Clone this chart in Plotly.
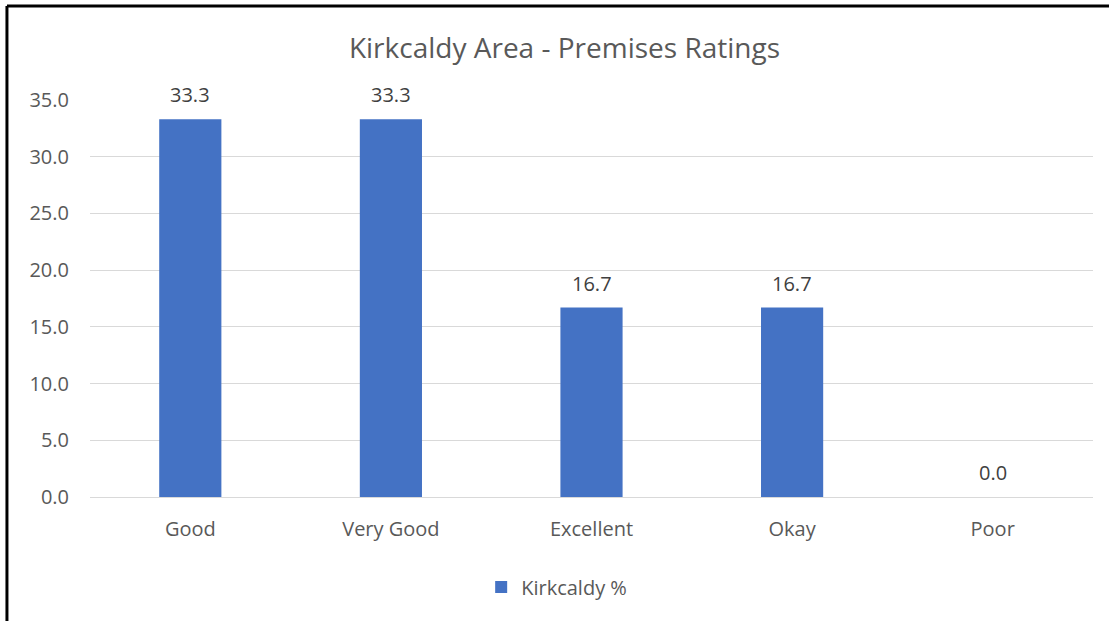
import plotly.graph_objects as go

# Premises ratings, Kirkcaldy area (% of responses)
categories = ["Good", "Very Good", "Excellent", "Okay", "Poor"]
kirkcaldy_pct = [33.3, 33.3, 16.7, 16.7, 0.0]
series_name = "Kirkcaldy %"
y_ticks = [0, 5, 10, 15, 20, 25, 30, 35]

FONT = "Open Sans, Noto Sans, sans-serif"
GREY = "#595959"
BLUE = "#4472c4"

fig = go.Figure(go.Bar(
    x=categories, y=kirkcaldy_pct, name=series_name,
    marker=dict(color=BLUE, line=dict(width=0)),
    showlegend=True,
))

# data labels above each bar
for cat, val in zip(categories, kirkcaldy_pct):
    fig.add_annotation(x=cat, y=val, text=f"{val:.1f}", showarrow=False,
                       yanchor="bottom", yshift=9,
                       font=dict(family=FONT, size=20, color="#404040"))

# frame of the pasted chart (only top and left edge visible)
fig.add_shape(type="line", xref="paper", yref="paper",
              x0=-0.0828, x1=1.03, y0=1.2368, y1=1.2368,
              line=dict(color="black", width=3))
fig.add_shape(type="line", xref="paper", yref="paper",
              x0=-0.0828, x1=-0.0828, y0=1.2368, y1=-0.4,
              line=dict(color="black", width=3))

fig.update_layout(
    width=1109, height=621,
    margin=dict(l=90, r=16, t=100, b=124),
    paper_bgcolor="white", plot_bgcolor="white",
    font=dict(family=FONT, size=20, color=GREY),
    title=dict(text="Kirkcaldy Area - Premises Ratings", x=0.509, xanchor="center",
               y=0.923, yanchor="middle", font=dict(family=FONT, size=28, color=GREY)),
    bargap=0.69,
    legend=dict(orientation="h", x=0.39, xanchor="left", y=-0.227, yanchor="middle",
                font=dict(family=FONT, size=20, color=GREY), itemwidth=30),
    xaxis=dict(showgrid=False, showline=False, ticks="", ticklabelstandoff=18,
               tickfont=dict(family=FONT, size=20, color=GREY)),
    yaxis=dict(range=[0, 35], tickvals=y_ticks, tickformat=".1f",
               showgrid=True, gridcolor="#d9d9d9", gridwidth=1,
               zeroline=True, zerolinecolor="#d9d9d9", zerolinewidth=1,
               showline=False, ticks="", ticklabelstandoff=20,
               tickfont=dict(family=FONT, size=20, color=GREY)),
)

fig.write_html("out.html", config={"displayModeBar": False},
               post_script="document.body.style.margin='0';")
